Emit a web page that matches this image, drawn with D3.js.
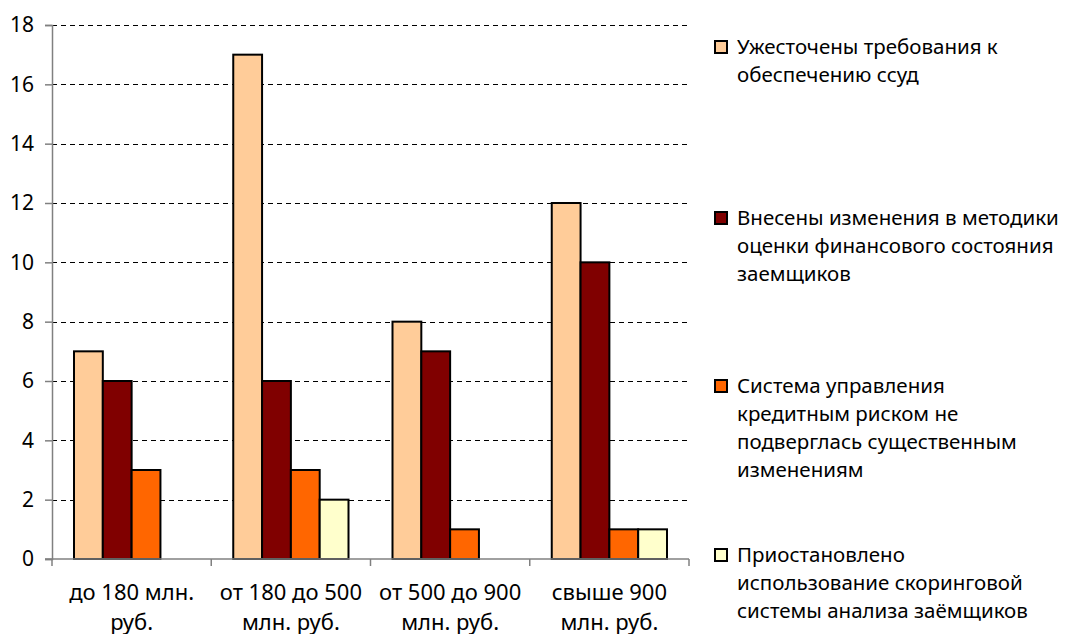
<!DOCTYPE html>
<html>
<head>
<meta charset="utf-8">
<script src="https://cdn.jsdelivr.net/npm/d3@7"></script>
<style>
  html, body { margin: 0; padding: 0; background: #fff; }
  svg { display: block; }
  text { font-family: "Noto Sans", "Open Sans", sans-serif; fill: #000; }
</style>
</head>
<body>
<svg id="chart" width="1083" height="634"></svg>
<script>
// Banks by size of capital (x-axis groups)
const categories = [
  ["до 180 млн.", "руб."],
  ["от 180 до 500", "млн. руб."],
  ["от 500 до 900", "млн. руб."],
  ["свыше 900", "млн. руб."]
];

// Series names (legend lines)
const seriesNames = [
  ["Ужесточены требования к", "обеспечению ссуд"],
  ["Внесены изменения в методики", "оценки финансового состояния", "заемщиков"],
  ["Система управления", "кредитным риском не", "подверглась существенным", "изменениям"],
  ["Приостановлено", "использование скоринговой", "системы анализа заёмщиков"]
];

const seriesColors = ["#FFCC99", "#800000", "#FF6600", "#FFFFCC"];

// Values per series, one entry per category
const tightenedCollateral = [7, 17, 8, 12];
const methodologyChanged = [6, 6, 7, 10];
const noSignificantChange = [3, 3, 1, 1];
const scoringSuspended = [0, 2, 0, 1];

const yTicks = [0, 2, 4, 6, 8, 10, 12, 14, 16, 18];

const seriesValues = [tightenedCollateral, methodologyChanged, noSignificantChange, scoringSuspended];

const svg = d3.select("#chart");
const margin = { left: 52, right: 394, top: 25, bottom: 75 };
const W = 1083, H = 634;
const plotW = W - margin.left - margin.right;
const plotH = H - margin.top - margin.bottom;

const g = svg.append("g").attr("transform", `translate(${margin.left},${margin.top})`);

const x0 = d3.scaleBand().domain(d3.range(categories.length)).range([0, plotW]).paddingInner(0).paddingOuter(0);
const x1 = d3.scaleBand().domain(d3.range(seriesValues.length)).range([22, x0.bandwidth() - 22]).padding(0);
const y = d3.scaleLinear().domain([0, 18]).range([plotH, 0]);

// Dashed gridlines
g.append("g")
  .selectAll("line")
  .data(yTicks.filter(d => d > 0))
  .join("line")
  .attr("x1", 0).attr("x2", plotW)
  .attr("y1", d => Math.round(y(d)) + 0.5).attr("y2", d => Math.round(y(d)) + 0.5)
  .attr("stroke", "#000")
  .attr("stroke-width", 1)
  .attr("stroke-dasharray", "5,4");

// Y axis
const yAxis = g.append("g")
  .call(d3.axisLeft(y).tickValues(yTicks).tickSize(7).tickPadding(11).tickFormat(d3.format("d")));
yAxis.select(".domain").attr("stroke", "#808080").attr("stroke-width", 1.5);
yAxis.selectAll(".tick line").attr("stroke", "#808080").attr("stroke-width", 1.5);
yAxis.selectAll(".tick text").style("font-size", "21px").attr("fill", "#000");

// Bars
const groups = g.append("g")
  .selectAll("g")
  .data(categories.map((c, i) => i))
  .join("g")
  .attr("transform", i => `translate(${x0(i)},0)`);

groups.selectAll("rect")
  .data(i => seriesValues.map((vals, s) => ({ s, v: vals[i] })).filter(d => d.v > 0))
  .join("rect")
  .attr("x", d => x1(d.s))
  .attr("y", d => y(d.v))
  .attr("width", x1.bandwidth())
  .attr("height", d => plotH - y(d.v))
  .attr("fill", d => seriesColors[d.s])
  .attr("stroke", "#000")
  .attr("stroke-width", 2);

// X axis
const xAxis = g.append("g")
  .attr("transform", `translate(0,${plotH})`);
xAxis.append("line")
  .attr("x1", -7).attr("x2", plotW)
  .attr("stroke", "#808080").attr("stroke-width", 1.5);
xAxis.selectAll(".xt")
  .data(d3.range(categories.length + 1))
  .join("line")
  .attr("class", "xt")
  .attr("x1", i => i * x0.bandwidth()).attr("x2", i => i * x0.bandwidth())
  .attr("y1", 0).attr("y2", 7)
  .attr("stroke", "#808080").attr("stroke-width", 1.5);

const xl = xAxis.selectAll(".xl")
  .data(categories)
  .join("text")
  .attr("class", "xl")
  .attr("text-anchor", "middle")
  .style("font-size", "22px")
  .attr("transform", (d, i) => `translate(${x0(i) + x0.bandwidth() / 2},0)`);
xl.selectAll("tspan")
  .data(d => d)
  .join("tspan")
  .attr("x", 0)
  .attr("y", (d, j) => 41 + j * 30)
  .text(d => d);

// Legend
const legendTops = [47, 218, 386, 555];
const legend = svg.append("g");
const items = legend.selectAll("g")
  .data(seriesNames)
  .join("g")
  .attr("transform", (d, i) => `translate(715,${legendTops[i]})`);
items.append("rect")
  .attr("x", 0).attr("y", -6)
  .attr("width", 12).attr("height", 12)
  .attr("fill", (d, i) => seriesColors[i])
  .attr("stroke", "#000").attr("stroke-width", 2);
const lt = items.append("text").style("font-size", "20.5px");
lt.selectAll("tspan")
  .data(d => d)
  .join("tspan")
  .attr("x", 22)
  .attr("y", (d, j) => 7 + j * 28)
  .text(d => d);
</script>
</body>
</html>
